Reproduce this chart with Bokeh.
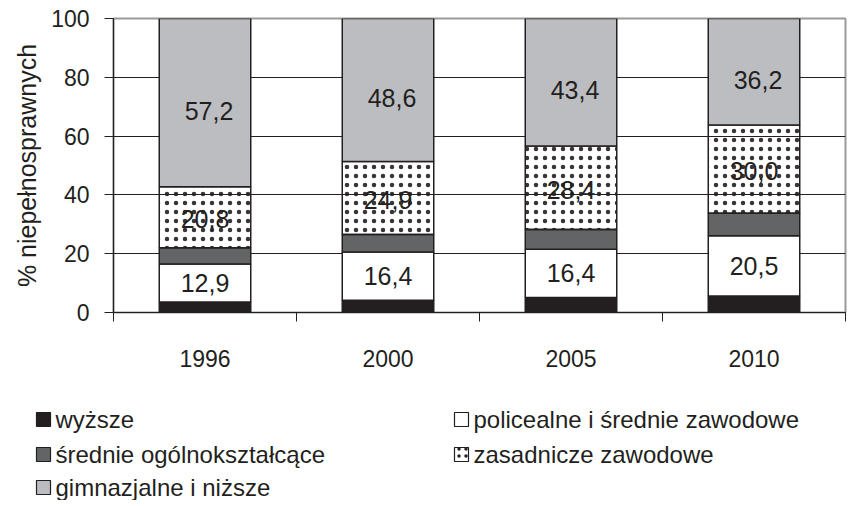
from bokeh.plotting import figure
from bokeh.models import Range1d, FixedTicker
from bokeh.embed import file_html
from bokeh.resources import INLINE
from bokeh.core.properties import value

# ---------------- data ----------------
years = ["1996", "2000", "2005", "2010"]
series_names = [
    "wyższe",
    "policealne i średnie zawodowe",
    "średnie ogólnokształcące",
    "zasadnicze zawodowe",
    "gimnazjalne i niższe",
]
wyzsze = [3.6, 4.2, 5.1, 5.6]
policealne = [12.9, 16.4, 16.4, 20.5]
srednie_ogolne = [5.5, 5.9, 6.7, 7.7]
zasadnicze = [20.8, 24.9, 28.4, 30.0]
gimnazjalne = [57.2, 48.6, 43.4, 36.2]
y_ticks = [0, 20, 40, 60, 80, 100]
y_title = "% niepełnosprawnych"

series_values = [wyzsze, policealne, srednie_ogolne, zasadnicze, gimnazjalne]
show_labels = [False, True, False, True, True]

# ---------------- styles ----------------
INK = "#231f20"
FONT = "Liberation Sans"
fills = [INK, "#ffffff", "#636466", "#ffffff", "#bcbdc0"]
fill_alphas = [1, 1, 1, 0, 1]
hatches = [None, None, None, "dot", None]
label_offsets = [(0, 0), (0, 0), (0, 0), (0, 2), (4, 8)]

n = len(years)
xs = [i + 0.5 for i in range(n)]

p = figure(
    frame_width=732, frame_height=294,
    x_range=Range1d(0, n), y_range=Range1d(0, 100),
    output_backend="svg", toolbar_location=None,
    min_border_left=113, min_border_right=3,
    min_border_top=18, min_border_bottom=70,
)
p.background_fill_color = "white"
p.border_fill_color = "white"
p.outline_line_color = "#9a9a9a"
p.outline_line_width = 2

# grid
p.xgrid.visible = False
p.ygrid.ticker = FixedTicker(ticks=y_ticks[:-1])
p.ygrid.grid_line_color = INK
p.ygrid.grid_line_width = 1

# y axis
p.yaxis.ticker = FixedTicker(ticks=y_ticks)
p.yaxis.axis_line_color = INK
p.yaxis.axis_line_width = 1.2
p.yaxis.major_tick_line_color = INK
p.yaxis.major_tick_in = 0
p.yaxis.major_tick_out = 9
p.yaxis.minor_tick_line_color = None
p.yaxis.major_label_text_font = FONT
p.yaxis.major_label_text_font_size = "23px"
p.yaxis.major_label_text_color = INK
p.yaxis.major_label_standoff = 15
p.yaxis.axis_label = y_title
p.yaxis.axis_label_text_font = FONT
p.yaxis.axis_label_text_font_size = "25px"
p.yaxis.axis_label_text_font_style = "normal"
p.yaxis.axis_label_text_color = INK
p.yaxis.axis_label_standoff = 7

# x axis: labels at bar centres, tick marks between categories
p.xaxis.ticker = FixedTicker(ticks=xs, minor_ticks=list(range(n + 1)))
p.xaxis.major_label_overrides = {x: y for x, y in zip(xs, years)}
p.xaxis.axis_line_color = INK
p.xaxis.axis_line_width = 1.2
p.xaxis.major_tick_line_color = None
p.xaxis.major_tick_in = 0
p.xaxis.major_tick_out = 0
p.xaxis.minor_tick_line_color = INK
p.xaxis.minor_tick_in = 0
p.xaxis.minor_tick_out = 9
p.xaxis.major_label_text_font = FONT
p.xaxis.major_label_text_font_size = "23px"
p.xaxis.major_label_text_color = INK
p.xaxis.major_label_standoff = 28

# stacked bars
bottoms = [0.0] * n
for vals, fc, fa, hp, lab, (dx, dy) in zip(series_values, fills, fill_alphas,
                                           hatches, show_labels, label_offsets):
    tops = [b + v for b, v in zip(bottoms, vals)]
    kw = {}
    if hp:
        kw = dict(hatch_pattern=hp, hatch_color=INK, hatch_scale=9,
                  hatch_weight=0.6, hatch_alpha=0.9)
    p.vbar(x=xs, width=0.5, bottom=bottoms, top=tops, fill_color=fc,
           fill_alpha=fa, line_color=INK, line_width=1.5, **kw)
    if lab:
        mids = [(b + t) / 2 for b, t in zip(bottoms, tops)]
        texts = [f"{v:.1f}".replace(".", ",") for v in vals]
        p.text(x=xs, y=mids, text=texts, text_align="center",
               text_baseline="middle", text_font=value(FONT),
               text_font_size="25px", text_color=INK,
               x_offset=dx, y_offset=dy)
    bottoms = tops

# ---------------- legend (own root, no axes, two columns) ----------------
LW, LH = 841, 118
leg = figure(
    width=LW, height=LH, x_range=Range1d(0, LW), y_range=Range1d(LH, 0),
    output_backend="svg", toolbar_location=None, min_border=0,
    x_axis_location=None, y_axis_location=None,
)
leg.grid.visible = False
leg.outline_line_color = None
leg.background_fill_color = "white"
leg.border_fill_color = "white"

col_x = [43, 461]
row_y = [37, 72, 105]
for i, (name, fc, hp) in enumerate(zip(series_names, fills, hatches)):
    cx = col_x[i % 2]
    cy = row_y[i // 2]
    kw = {}
    if hp:
        kw = dict(hatch_pattern=hp, hatch_color=INK, hatch_scale=7, hatch_weight=0.6)
    leg.rect(x=[cx], y=[cy], width=14, height=14, fill_color=fc,
             line_color=INK, line_width=1.2, **kw)
    leg.text(x=[cx + 12], y=[cy], text=[name], text_align="left",
             text_baseline="middle", text_font=value(FONT),
             text_font_size="24px", text_color=INK)

open("out.html", "w").write(file_html([p, leg], INLINE))
